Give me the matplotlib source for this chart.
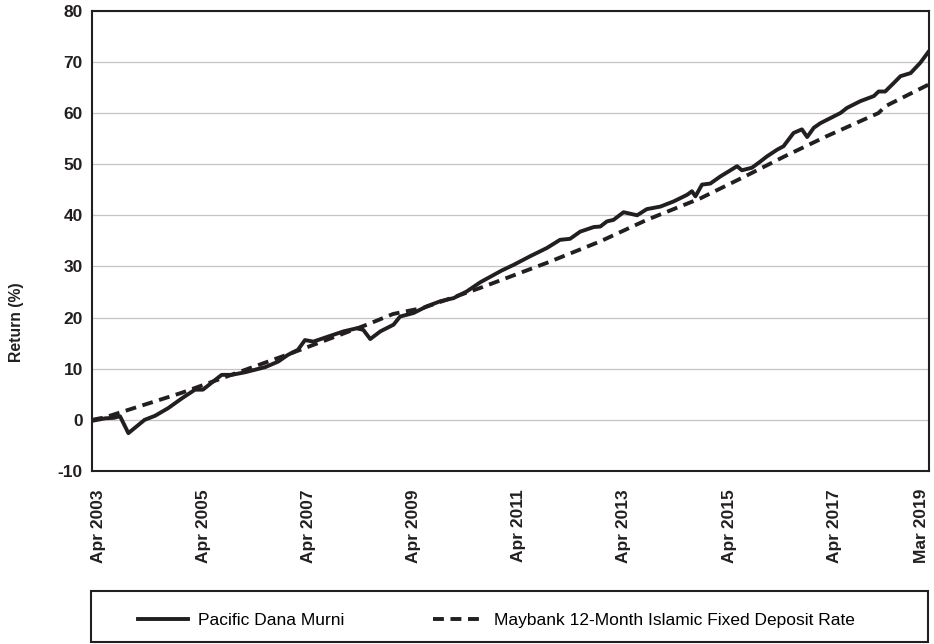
import matplotlib
matplotlib.use("Agg")
import matplotlib.pyplot as plt
from matplotlib.patches import Rectangle
import matplotlib.transforms as mtransforms

plt.rcParams['font.family'] = ['Liberation Sans', 'DejaVu Sans']

# ---- data (months since Apr 2003, cumulative return %) ----
fund_months = [0, 3, 5, 6.4, 8.3, 12, 14.4, 17.4, 20.5, 23.5, 25.3, 28.1, 29.6, 31.9,
               34.9, 39.5, 42.5, 44.7, 47, 48.6, 50.5, 53.6, 57.4, 60.4, 61.9, 63.5,
               65.8, 68.8, 70.3, 73.4, 76.4, 79.5, 82.5, 85.5, 88.6, 93.5, 96.2, 100,
               103.8, 106.8, 109.1, 111.4, 114.5, 116, 117.5, 119, 121.3, 124.4, 126.6,
               129.7, 132.7, 135.8, 136.9, 137.7, 139.2, 141.1, 143.4, 145.7, 147.2,
               148.3, 150.6, 152.5, 154, 156.3, 157.8, 160.1, 162, 163.2, 164.7, 166.2,
               168.5, 170.8, 172.3, 175.3, 178.4, 179.5, 181, 183, 184.5, 186.8, 189, 191]
fund_values = [-0.2, 0.3, 0.4, 0.7, -2.6, 0.0, 0.8, 2.3, 4.2, 5.9, 5.9, 7.8, 8.8, 8.8,
               9.3, 10.3, 11.4, 12.7, 13.7, 15.6, 15.3, 16.2, 17.3, 17.9, 17.6, 15.8,
               17.3, 18.6, 20.2, 20.9, 22.2, 23.2, 23.8, 25.1, 26.9, 29.2, 30.3, 32.0,
               33.6, 35.2, 35.4, 36.8, 37.7, 37.8, 38.8, 39.1, 40.6, 40.0, 41.2,
               41.7, 42.7, 44.0, 44.7, 43.7, 46.0, 46.2, 47.6, 48.8, 49.6,
               48.8, 49.3, 50.5, 51.5, 52.8, 53.5, 56.1, 56.8, 55.3, 57.1, 58.0,
               59.0, 60.0, 61.0, 62.3, 63.3, 64.2, 64.2, 65.9, 67.2, 67.8, 69.8, 72.1]

fd_months = [0, 3, 7, 20.5, 46, 62.7, 68.7, 75.6, 88.6, 103.8, 116, 126.6, 138.8,
             149, 158, 167.5, 179.5, 181, 191]
fd_values = [0.0, 0.5, 1.6, 5.3, 13.2, 18.6, 20.7, 21.9, 25.8, 30.7, 34.9, 39.1, 43.3,
             47.6, 51.5, 55.4, 60.0, 61.3, 65.6]

tick_months = [0, 24, 48, 72, 96, 120, 144, 168, 191]
tick_labels = ['Apr 2003', 'Apr 2005', 'Apr 2007', 'Apr 2009', 'Apr 2011',
               'Apr 2013', 'Apr 2015', 'Apr 2017', 'Mar 2019']
y_ticks = [-10, 0, 10, 20, 30, 40, 50, 60, 70, 80]

series_names = ['Pacific Dana Murni', 'Maybank 12-Month Islamic Fixed Deposit Rate']

# ---- figure ----
W, H = 934, 644
fig = plt.figure(figsize=(W / 100, H / 100), dpi=100)
ax = fig.add_axes([92 / W, 1 - 471 / H, (929 - 92) / W, (471 - 10.7) / H])

ink = '#231f20'
lw = 2.8
l1, = ax.plot(fund_months, fund_values, color=ink, lw=lw, solid_joinstyle='round',
              label=series_names[0], zorder=3)
l2, = ax.plot(fd_months, fd_values, color=ink, lw=lw, linestyle=(0, (2.8, 1.7)),
              label=series_names[1], zorder=3)

ax.set_xlim(0, 191)
ax.set_ylim(-10, 80)
ax.set_yticks(y_ticks)
ax.set_yticklabels([str(v) for v in y_ticks])
ax.set_xticks(tick_months)
ax.set_xticklabels(tick_labels, rotation=90)
ax.tick_params(axis='both', length=0, labelsize=12.5)
ax.tick_params(axis='y', pad=6.5)
ax.tick_params(axis='x', pad=13)
for lab in ax.get_xticklabels() + ax.get_yticklabels():
    lab.set_fontweight('bold')
    lab.set_color(ink)

# shift x tick labels as in the reference (pixels -> points at 100 dpi)
xlabs = ax.get_xticklabels()
for i, lab in enumerate(xlabs):
    dx = 6 if i < len(xlabs) - 1 else -8
    off = mtransforms.ScaledTranslation(dx / 100, 0, fig.dpi_scale_trans)
    lab.set_transform(lab.get_transform() + off)

ax.grid(axis='y', color='#c4c4c4', lw=0.9)
ax.set_axisbelow(True)
for sp in ax.spines.values():
    sp.set_color(ink)
    sp.set_linewidth(1.5)

ax.set_ylabel('Return (%)', fontsize=11.3, fontweight='bold', color=ink)
ax.yaxis.set_label_coords(24 / W, 0.5, transform=fig.transFigure)

# legend box
fig.patches.append(Rectangle((91 / W, 1 - 642 / H), (928 - 91) / W, (642 - 591) / H,
                             transform=fig.transFigure, fill=False, edgecolor=ink,
                             lw=1.5))
fig.legend(handles=[l1, l2], labels=series_names, loc='center left',
           bbox_to_anchor=(122 / W, 1 - 620 / H), ncol=2, frameon=False,
           fontsize=12.5, handlelength=2.9, handletextpad=0.6, columnspacing=5.1)

fig.savefig('out.png', dpi=100)
